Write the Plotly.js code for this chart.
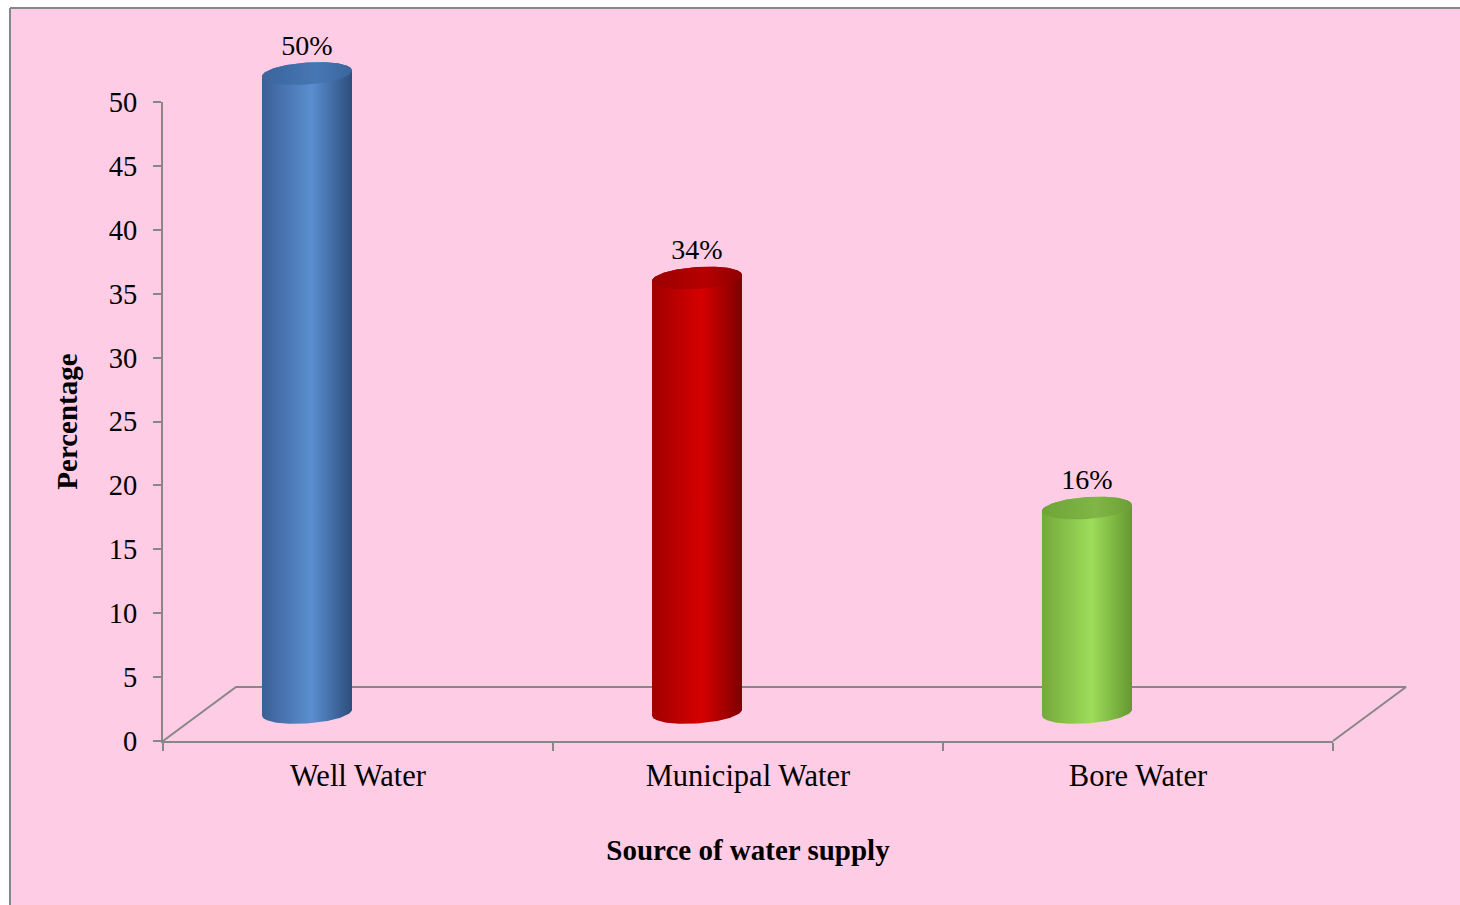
<!DOCTYPE html>
<html>
<head>
<meta charset="utf-8">
<script src="https://cdn.plot.ly/plotly-3.0.1.min.js"></script>
<style>html,body{margin:0;padding:0;background:#fff;}#chart{width:1460px;height:905px;}</style>
</head>
<body>
<div id="chart"></div>
<script>
// ---- data ----
const categories = ['Well Water', 'Municipal Water', 'Bore Water'];
const values = [50, 34, 16];
const valueLabels = ['50%', '34%', '16%'];
const yTickValues = [0, 5, 10, 15, 20, 25, 30, 35, 40, 45, 50];
const xTitle = 'Source of water supply';
const yTitle = 'Percentage';

// ---- styles ----
const bodyColors = [
  [[0, '#3A6095'], [0.55, '#5B8ED0'], [1, '#2D4E7C']],
  [[0, '#A00000'], [0.55, '#D60000'], [1, '#7E0000']],
  [[0, '#74A83C'], [0.55, '#9DDD5A'], [1, '#64982F']]
];
const topColors = [
  [[0, '#3A649C'], [0.6, '#4777B4'], [1, '#3A659E']],
  [[0, '#9C0000'], [0.6, '#B60000'], [1, '#8C0000']],
  [[0, '#6FA438'], [0.6, '#7FB646'], [1, '#6C9F35']]
];
const gray = '#878787';
const pink = '#FFCCE6';
const FONT = 'Liberation Serif, Times New Roman, serif';

// ---- geometry (pixels of the frame) ----
const W = 1460, H = 905;
const PX = {left: 163, right: 1333, zero: 741, top: 102};
const yMax = 50;
const xPer = (PX.right - PX.left) / categories.length;
const yPer = (PX.zero - PX.top) / yMax;
// full-frame axis ranges in the same units as the main axes
const x2Range = [-0.5 - PX.left / xPer, -0.5 + (W - PX.left) / xPer];
const y2Range = [-(H - PX.zero) / yPer, PX.zero / yPer];

const depthX = 73 / xPer, depthY = 54 / yPer;       // floor depth
const cylShift = -51 / xPer;                          // cylinder centre offset
const cylBase = 28.5 / yPer;                          // cylinder base above floor front
const semiA = 45 / xPer, semiB = 11 / yPer, tilt = 3 / yPer;
const labelGap = 15 / yPer;

const traces = [];

// hidden trace carrying the categories on the main axes
traces.push({
  type: 'bar', x: categories, y: values, xaxis: 'x', yaxis: 'y',
  marker: {color: 'rgba(0,0,0,0)'}, hoverinfo: 'skip', showlegend: false
});

// floor (back edges)
traces.push({
  type: 'scatter', mode: 'lines', xaxis: 'x2', yaxis: 'y2',
  x: [-0.5, -0.5 + depthX, categories.length - 0.5 + depthX, categories.length - 0.5],
  y: [0, depthY, depthY, 0],
  line: {color: gray, width: 2}, hoverinfo: 'skip', showlegend: false
});

const N = 60;
categories.forEach((c, i) => {
  const xc = i + cylShift;
  const yb = cylBase;
  const yt = cylBase + values[i];
  const bx = [], by = [];
  for (let k = 0; k <= N; k++) {           // bottom front half
    const t = Math.PI + Math.PI * k / N;
    bx.push(xc + semiA * Math.cos(t));
    by.push(yb + semiB * Math.sin(t) + tilt * Math.cos(t));
  }
  for (let k = 0; k <= N; k++) {           // top back half
    const t = Math.PI * k / N;
    bx.push(xc + semiA * Math.cos(t));
    by.push(yt + semiB * Math.sin(t) + tilt * Math.cos(t));
  }
  traces.push({
    type: 'scatter', mode: 'lines', fill: 'toself', xaxis: 'x2', yaxis: 'y2',
    x: bx, y: by, line: {width: 0},
    fillgradient: {type: 'horizontal', colorscale: bodyColors[i]},
    hoverinfo: 'skip', showlegend: false
  });
  const tx = [], ty = [];
  for (let k = 0; k <= 2 * N; k++) {
    const t = 2 * Math.PI * k / (2 * N);
    tx.push(xc + semiA * Math.cos(t));
    ty.push(yt + semiB * Math.sin(t) + tilt * Math.cos(t));
  }
  traces.push({
    type: 'scatter', mode: 'lines', fill: 'toself', xaxis: 'x2', yaxis: 'y2',
    x: tx, y: ty, line: {width: 0},
    fillgradient: {type: 'horizontal', colorscale: topColors[i]},
    hoverinfo: 'skip', showlegend: false
  });
  traces.push({
    type: 'scatter', mode: 'text', xaxis: 'x2', yaxis: 'y2',
    x: [xc], y: [yt + semiB + labelGap], text: [valueLabels[i]], textposition: 'middle center',
    textfont: {family: FONT, size: 28, color: '#000'},
    hoverinfo: 'skip', showlegend: false, cliponaxis: false
  });
});

const layout = {
  width: W, height: H,
  margin: {l: 0, r: 0, t: 0, b: 0, pad: 0},
  paper_bgcolor: '#ffffff', plot_bgcolor: 'rgba(0,0,0,0)',
  font: {family: FONT, color: '#000'},
  showlegend: false,
  bargap: 0.5,
  xaxis: {
    type: 'category', categoryarray: categories, categoryorder: 'array',
    domain: [PX.left / W, PX.right / W], range: [-0.5, categories.length - 0.5],
    showline: true, linecolor: gray, linewidth: 2, showgrid: false, zeroline: false,
    ticks: 'outside', tickson: 'boundaries', ticklen: 8, tickcolor: gray, tickwidth: 2,
    tickfont: {family: FONT, size: 30.5, color: '#000'}, ticklabelstandoff: 6,
    title: {text: xTitle, font: {family: FONT, size: 29, weight: 'bold', color: '#000'}, standoff: 48},
    automargin: false, fixedrange: true
  },
  yaxis: {
    domain: [1 - PX.zero / H, 1 - PX.top / H], range: [0, yMax], autorange: false,
    tickmode: 'array', tickvals: yTickValues,
    showline: true, linecolor: gray, linewidth: 2, showgrid: false, zeroline: false,
    ticks: 'outside', ticklen: 8, tickcolor: gray, tickwidth: 2,
    tickfont: {family: FONT, size: 28.5, color: '#000'}, ticklabelstandoff: 10,
    title: {text: yTitle, font: {family: FONT, size: 29, weight: 'bold', color: '#000'}, standoff: 23},
    automargin: false, fixedrange: true
  },
  xaxis2: {
    anchor: 'y2', domain: [0, 1], range: x2Range, visible: false, fixedrange: true
  },
  yaxis2: {
    anchor: 'x2', domain: [0, 1], range: y2Range, visible: false, fixedrange: true
  },
  shapes: [
    {type: 'rect', xref: 'paper', yref: 'paper', layer: 'below',
     x0: 10 / W, x1: 1.1, y0: -0.1, y1: 1 - 8 / H,
     fillcolor: pink, line: {width: 0}},
    {type: 'line', xref: 'paper', yref: 'paper', layer: 'below',
     x0: 10 / W, x1: 1.1, y0: 1 - 8 / H, y1: 1 - 8 / H, line: {color: gray, width: 2}},
    {type: 'line', xref: 'paper', yref: 'paper', layer: 'below',
     x0: 10 / W, x1: 10 / W, y0: -0.1, y1: 1 - 8 / H, line: {color: gray, width: 2}}
  ]
};

Plotly.newPlot('chart', traces, layout, {displayModeBar: false, staticPlot: true});
</script>
</body>
</html>
